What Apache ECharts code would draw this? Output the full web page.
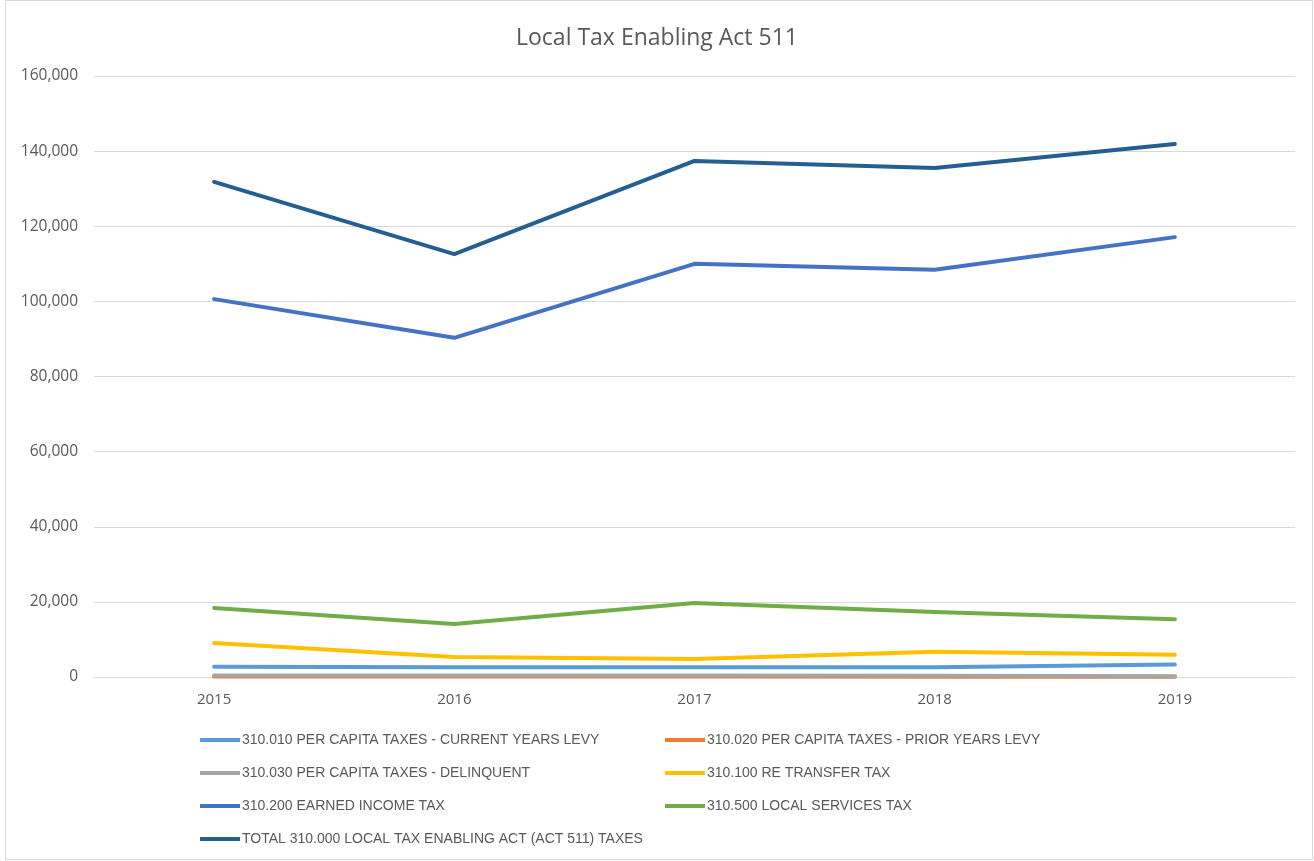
<!DOCTYPE html>
<html>
<head>
<meta charset="utf-8">
<script src="https://cdn.jsdelivr.net/npm/echarts@6/dist/echarts.min.js"></script>
<style>
  html, body { margin: 0; padding: 0; background: #fff; }
  #chart { width: 1314px; height: 861px; }
</style>
</head>
<body>
<div id="chart"></div>
<script>
// Fiscal years on the category axis
const years = ['2015', '2016', '2017', '2018', '2019'];

// Revenue by account, per year
const perCapitaCurrent = [2700, 2600, 2600, 2600, 3300];
const perCapitaPrior = [100, 150, 100, 80, 50];
const perCapitaDelinquent = [400, 400, 400, 300, 200];
const reTransferTax = [9050, 5300, 4800, 6700, 5900];
const earnedIncomeTax = [100600, 90300, 110000, 108400, 117100];
const localServicesTax = [18400, 14100, 19700, 17300, 15400];
const totalAct511 = [131800, 112600, 137400, 135500, 141900];

const seriesNames = [
  '310.010 PER CAPITA TAXES - CURRENT YEARS LEVY',
  '310.020 PER CAPITA TAXES - PRIOR YEARS LEVY',
  '310.030 PER CAPITA TAXES - DELINQUENT',
  '310.100 RE TRANSFER TAX',
  '310.200 EARNED INCOME TAX',
  '310.500 LOCAL SERVICES TAX',
  'TOTAL 310.000 LOCAL TAX ENABLING ACT (ACT 511) TAXES'
];
const seriesValues = [perCapitaCurrent, perCapitaPrior, perCapitaDelinquent,
  reTransferTax, earnedIncomeTax, localServicesTax, totalAct511];
const colors = ['#5B9BD5', '#ED7D31', '#A5A5A5', '#FFC000', '#4472C4', '#70AD47', '#255E91'];

const legendFont = '"Liberation Sans", Arial, sans-serif';
const axisFont = '"Open Sans", "Liberation Sans", sans-serif';
const textColor = '#595959';

const chart = echarts.init(document.getElementById('chart'));

const legendCommon = {
  orient: 'vertical',
  top: 727,
  itemWidth: 40,
  itemHeight: 4,
  itemGap: 17,
  icon: 'rect',
  textStyle: { color: textColor, fontSize: 14, fontFamily: legendFont, lineHeight: 16, padding: [0, 0, 0, -3] },
  selectedMode: false
};

chart.setOption({
  animation: false,
  backgroundColor: '#fff',
  color: colors,
  title: {
    text: 'Local Tax Enabling Act 511',
    left: 'center',
    top: 22,
    textStyle: { color: textColor, fontSize: 23, fontWeight: 'normal', fontFamily: axisFont }
  },
  graphic: [{
    type: 'rect',
    shape: { x: 5.5, y: 0.5, width: 1307, height: 859 },
    style: { fill: 'none', stroke: '#d9d9d9', lineWidth: 1 },
    silent: true
  }],
  legend: [
    Object.assign({ left: 195, data: [seriesNames[0], seriesNames[2], seriesNames[4], seriesNames[6]] }, legendCommon),
    Object.assign({ left: 660, data: [seriesNames[1], seriesNames[3], seriesNames[5]] }, legendCommon)
  ],
  grid: { left: 94, right: 19, top: 76, bottom: 184, containLabel: false },
  xAxis: {
    type: 'category',
    data: years,
    boundaryGap: true,
    axisLine: { lineStyle: { color: '#d9d9d9', width: 1 } },
    axisTick: { show: false },
    axisLabel: { color: textColor, fontSize: 15, fontFamily: axisFont, margin: 15 }
  },
  yAxis: {
    type: 'value',
    min: 0,
    max: 160000,
    interval: 20000,
    axisLine: { show: false },
    axisTick: { show: false },
    splitLine: { lineStyle: { color: '#d9d9d9', width: 1 } },
    axisLabel: {
      color: textColor, fontSize: 15.5, fontFamily: axisFont, margin: 16,
      formatter: v => v.toLocaleString('en-US')
    }
  },
  series: seriesNames.map((name, i) => ({
    name,
    type: 'line',
    data: seriesValues[i],
    symbol: 'none',
    lineStyle: { width: 4, color: colors[i], cap: 'round', join: 'round' },
    itemStyle: { color: colors[i] },
    emphasis: { disabled: true }
  }))
});
</script>
</body>
</html>
